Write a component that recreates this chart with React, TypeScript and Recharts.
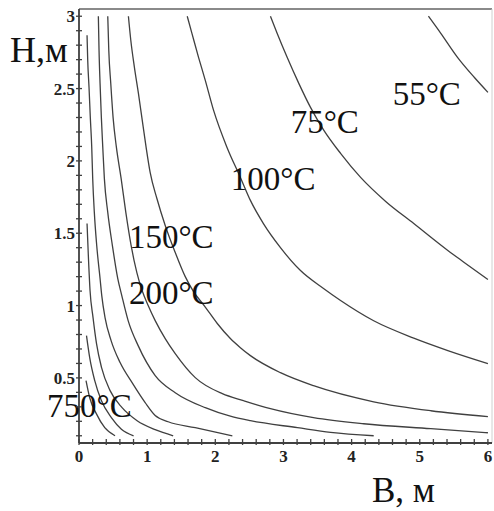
import React from "react";
import { ComposedChart, Line, Scatter, XAxis, YAxis, ReferenceLine } from "recharts";

type Pt = { b: number; h: number };

// isotherms, B (m) vs H (m)
const iso750: Pt[] = [
  { b: 0.103, h: 0.481 }, { b: 0.157, h: 0.363 }, { b: 0.254, h: 0.253 },
  { b: 0.378, h: 0.156 }, { b: 0.529, h: 0.1 },
];
const iso500: Pt[] = [
  { b: 0.11, h: 0.792 }, { b: 0.157, h: 0.64 }, { b: 0.231, h: 0.481 },
  { b: 0.328, h: 0.343 }, { b: 0.475, h: 0.225 }, { b: 0.622, h: 0.145 },
  { b: 0.801, h: 0.1 },
];
const iso400: Pt[] = [
  { b: 0.118, h: 1.567 }, { b: 0.137, h: 1.346 }, { b: 0.162, h: 1.104 },
  { b: 0.206, h: 0.917 }, { b: 0.257, h: 0.737 }, { b: 0.331, h: 0.571 },
  { b: 0.456, h: 0.412 }, { b: 0.632, h: 0.294 }, { b: 0.853, h: 0.204 },
  { b: 1.118, h: 0.142 }, { b: 1.382, h: 0.1 },
];
const iso300: Pt[] = [
  { b: 0.118, h: 2.869 }, { b: 0.128, h: 2.696 }, { b: 0.147, h: 2.509 },
  { b: 0.166, h: 2.301 }, { b: 0.187, h: 2.093 }, { b: 0.201, h: 1.879 },
  { b: 0.225, h: 1.644 }, { b: 0.26, h: 1.415 }, { b: 0.309, h: 1.187 },
  { b: 0.334, h: 1.069 }, { b: 0.382, h: 0.917 }, { b: 0.471, h: 0.758 },
  { b: 0.603, h: 0.606 }, { b: 0.779, h: 0.467 }, { b: 0.971, h: 0.329 },
  { b: 1.118, h: 0.24 }, { b: 1.309, h: 0.197 }, { b: 1.706, h: 0.156 },
  { b: 2.25, h: 0.1 },
];
const iso250: Pt[] = [
  { b: 0.284, h: 3.0 }, { b: 0.294, h: 2.765 }, { b: 0.309, h: 2.536 },
  { b: 0.328, h: 2.301 }, { b: 0.349, h: 2.093 }, { b: 0.372, h: 1.879 },
  { b: 0.422, h: 1.644 }, { b: 0.49, h: 1.415 }, { b: 0.569, h: 1.187 },
  { b: 0.628, h: 1.069 }, { b: 0.721, h: 0.896 }, { b: 0.868, h: 0.723 },
  { b: 1.118, h: 0.516 }, { b: 1.412, h: 0.398 }, { b: 1.853, h: 0.294 },
  { b: 2.221, h: 0.235 }, { b: 2.515, h: 0.204 }, { b: 3.206, h: 0.156 },
  { b: 3.691, h: 0.124 }, { b: 4.324, h: 0.1 },
];
const iso200: Pt[] = [
  { b: 0.422, h: 3.0 }, { b: 0.437, h: 2.765 }, { b: 0.466, h: 2.536 },
  { b: 0.5, h: 2.301 }, { b: 0.549, h: 2.093 }, { b: 0.618, h: 1.879 },
  { b: 0.687, h: 1.644 }, { b: 0.765, h: 1.415 }, { b: 0.849, h: 1.228 },
  { b: 0.926, h: 1.104 }, { b: 1.015, h: 1.0 }, { b: 1.118, h: 0.896 },
  { b: 1.265, h: 0.772 }, { b: 1.412, h: 0.668 }, { b: 1.706, h: 0.502 },
  { b: 2.103, h: 0.391 }, { b: 2.412, h: 0.343 }, { b: 2.809, h: 0.287 },
  { b: 3.441, h: 0.225 }, { b: 4.176, h: 0.183 }, { b: 5.162, h: 0.149 },
  { b: 6.0, h: 0.121 },
];
const iso150: Pt[] = [
  { b: 0.725, h: 3.0 }, { b: 0.76, h: 2.834 }, { b: 0.813, h: 2.647 },
  { b: 0.872, h: 2.467 }, { b: 0.922, h: 2.301 }, { b: 0.985, h: 2.093 },
  { b: 1.044, h: 1.92 }, { b: 1.143, h: 1.74 }, { b: 1.265, h: 1.554 },
  { b: 1.412, h: 1.367 }, { b: 1.559, h: 1.2 }, { b: 1.676, h: 1.1 },
  { b: 1.853, h: 0.99 }, { b: 2.029, h: 0.876 }, { b: 2.221, h: 0.772 },
  { b: 2.368, h: 0.709 }, { b: 2.515, h: 0.654 }, { b: 2.956, h: 0.536 },
  { b: 3.441, h: 0.446 }, { b: 4.324, h: 0.335 }, { b: 5.162, h: 0.273 },
  { b: 6.0, h: 0.232 },
];
const iso100: Pt[] = [
  { b: 1.588, h: 3.0 }, { b: 1.657, h: 2.882 }, { b: 1.754, h: 2.716 },
  { b: 1.853, h: 2.557 }, { b: 1.975, h: 2.349 }, { b: 2.172, h: 2.093 },
  { b: 2.368, h: 1.886 }, { b: 2.515, h: 1.727 }, { b: 2.706, h: 1.567 },
  { b: 2.956, h: 1.401 }, { b: 3.25, h: 1.242 }, { b: 3.588, h: 1.118 },
  { b: 3.838, h: 1.035 }, { b: 4.324, h: 0.895 }, { b: 4.912, h: 0.775 },
  { b: 5.412, h: 0.689 }, { b: 6.0, h: 0.599 },
];
const iso75: Pt[] = [
  { b: 2.809, h: 3.0 }, { b: 2.907, h: 2.882 }, { b: 3.054, h: 2.716 },
  { b: 3.225, h: 2.536 }, { b: 3.397, h: 2.37 }, { b: 3.593, h: 2.211 },
  { b: 3.838, h: 2.052 }, { b: 4.132, h: 1.886 }, { b: 4.5, h: 1.72 },
  { b: 4.912, h: 1.567 }, { b: 5.412, h: 1.381 }, { b: 5.647, h: 1.3 },
  { b: 6.0, h: 1.18 },
];
const iso55: Pt[] = [
  { b: 5.128, h: 3.0 }, { b: 5.309, h: 2.882 }, { b: 5.554, h: 2.716 },
  { b: 5.799, h: 2.578 }, { b: 6.0, h: 2.474 },
];

const curves = [iso750, iso500, iso400, iso300, iso250, iso200, iso150, iso100, iso75, iso55];

// label text, anchored at its right end
const labels = [
  { text: "55°C", b: 5.603, h: 2.384 },
  { text: "75°C", b: 4.107, h: 2.19 },
  { text: "100°C", b: 3.471, h: 1.796 },
  { text: "150°C", b: 1.975, h: 1.401 },
  { text: "200°C", b: 1.975, h: 1.014 },
  { text: "750°C", b: 0.775, h: 0.227 },
];

const xMajor = [0, 1, 2, 3, 4, 5, 6];
const yMajor = [0.5, 1, 1.5, 2, 2.5, 3];
const xTicks = Array.from({ length: 31 }, (_, i) => Math.round(i * 2) / 10);
const yTicks = Array.from({ length: 30 }, (_, i) => Math.round(i + 1) / 10);

const SERIF = "'Liberation Serif', 'Times New Roman', serif";
const INK = "#404040";

const XTick = (props: any) => {
  const { x, y, payload } = props;
  const v = payload.value;
  const major = xMajor.some((m) => Math.abs(m - v) < 1e-6);
  return (
    <g>
      <line x1={x} x2={x} y1={y - 4} y2={y + 2} stroke={INK} strokeWidth={1.3} />
      {major && (
        <text x={x} y={y + 19} textAnchor="middle" fontFamily={SERIF} fontWeight="bold" fontSize={17} fill="#222">
          {v}
        </text>
      )}
    </g>
  );
};

const YTick = (props: any) => {
  const { x, y, payload } = props;
  const v = payload.value;
  const major = yMajor.some((m) => Math.abs(m - v) < 1e-6);
  return (
    <g>
      <line x1={x - 3} x2={x + 3} y1={y} y2={y} stroke={INK} strokeWidth={1.3} />
      {major && (
        <text x={x - 4} y={y + 6} textAnchor="end" fontFamily={SERIF} fontWeight="bold" fontSize={17} fill="#222">
          {v}
        </text>
      )}
    </g>
  );
};

const LabelShape = (props: any) => {
  const { cx, cy, payload } = props;
  return (
    <text x={cx} y={cy} textAnchor="end" fontFamily={SERIF} fontSize={33} fill="#111">
      {payload.text}
    </text>
  );
};

export default function App() {
  return (
    <div style={{ position: "absolute", left: 0, top: 0, width: 494, height: 511, background: "#fff" }}>
      <ComposedChart width={494} height={511} margin={{ top: 9, right: 2, bottom: 0, left: 0 }}>
        <XAxis
          type="number"
          dataKey="b"
          domain={[0, 6.06]}
          ticks={xTicks}
          interval={0}
          tick={<XTick />}
          tickLine={false}
          tickSize={0}
          tickMargin={0}
          height={68}
          axisLine={{ stroke: INK, strokeWidth: 1.8 }}
        />
        <YAxis
          type="number"
          dataKey="h"
          domain={[0.05, 3.05]}
          ticks={yTicks}
          interval={0}
          tick={<YTick />}
          tickLine={false}
          tickSize={0}
          tickMargin={0}
          width={79}
          axisLine={{ stroke: INK, strokeWidth: 1.8 }}
        />
        <ReferenceLine y={3.05} stroke="#8a8a8a" strokeWidth={2} />
        <ReferenceLine x={6.06} stroke="#d0d0d0" strokeWidth={1} />
        {curves.map((c, i) => (
          <Line
            key={i}
            data={c}
            dataKey="h"
            type="monotone"
            stroke={INK}
            strokeWidth={1.3}
            dot={false}
            activeDot={false}
            isAnimationActive={false}
          />
        ))}
        <Scatter data={labels} dataKey="h" shape={<LabelShape />} isAnimationActive={false} />
      </ComposedChart>
      <svg width={494} height={511} style={{ position: "absolute", left: 0, top: 0, pointerEvents: "none" }}>
        <text x={10} y={62} fontFamily={SERIF} fontSize={36} fill="#111">H,м</text>
        <text x={372} y={502} fontFamily={SERIF} fontSize={35} fill="#111">B, м</text>
      </svg>
    </div>
  );
}
